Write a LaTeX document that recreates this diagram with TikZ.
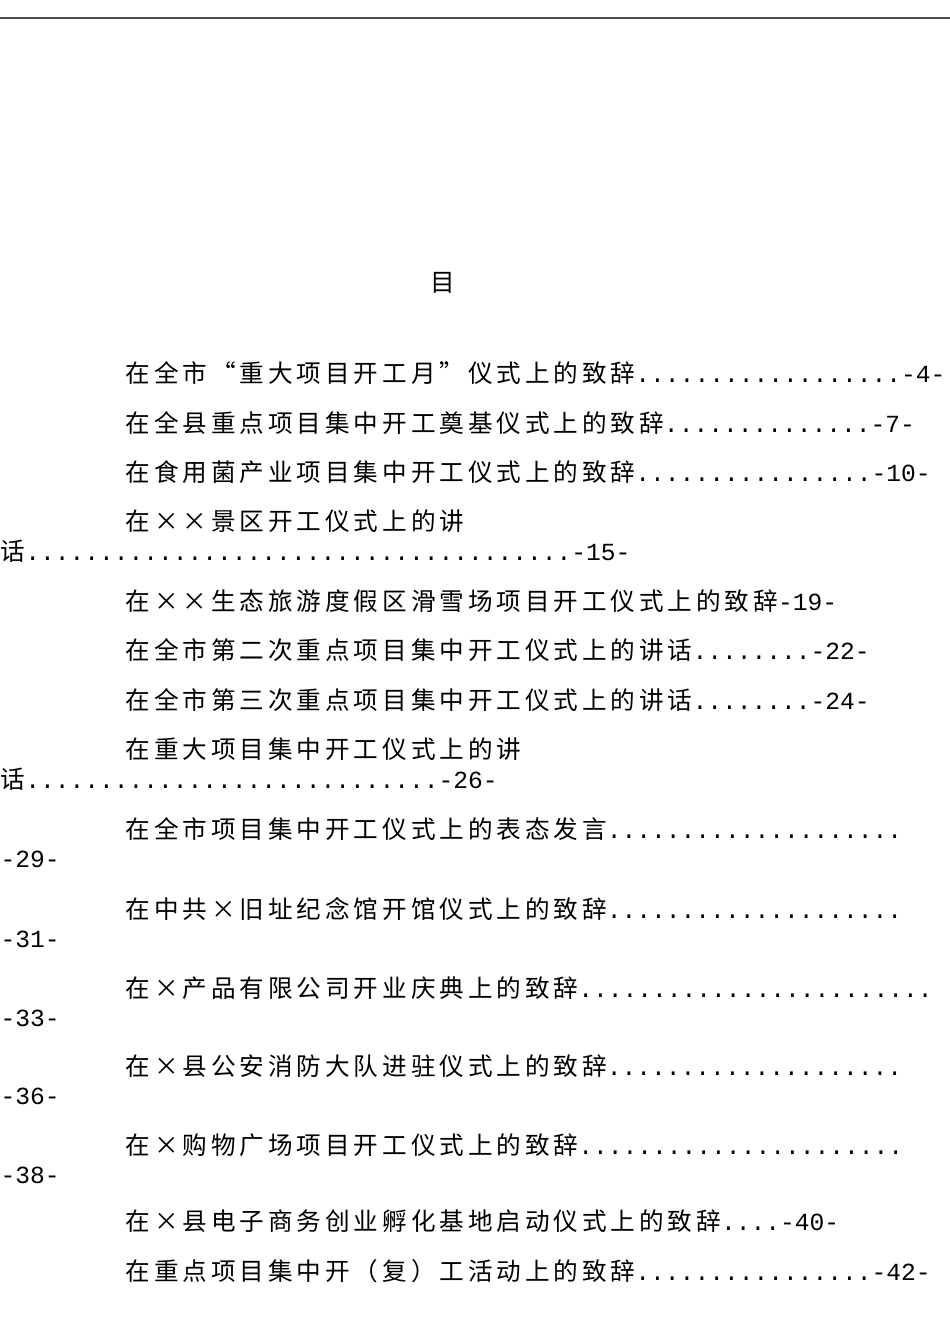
\documentclass[tikz,border=0pt]{standalone}
\usepackage{fontspec}
\setmainfont[LetterSpace=16]{Noto Sans CJK SC}
\newfontfamily\dotfont{Liberation Mono}
\newcommand{\dl}[1]{{\dotfont #1}}
\usetikzlibrary{positioning}

\begin{document}
\begin{tikzpicture}[
    entry/.style = {anchor=west, inner sep=0pt, font=\fontsize{7pt}{8pt}\selectfont},
    rule/.style = {draw=black!70, line width=0.6pt}
    ]
  \useasboundingbox (0,0) rectangle (9.5,-13.44);
  \coordinate (rl) at (0,-0.18) ;
  \coordinate (rr) at (9.5,-0.18) ;
  \draw[rule] (rl) -- (rr);

  \node[entry] (title) at (4.30,-2.83) {目} ;

  \node[entry] (t1) at (1.25,-3.73) {在全市“重大项目开工月”仪式上的致辞\dl{..................-4-}} ;
  \node[entry] (t2) at (1.25,-4.23) {在全县重点项目集中开工奠基仪式上的致辞\dl{..............-7-}} ;
  \node[entry] (t3) at (1.25,-4.72) {在食用菌产业项目集中开工仪式上的致辞\dl{................-10-}} ;
  \node[entry] (t4) at (1.25,-5.21) {在××景区开工仪式上的讲} ;
  \node[entry] (t4b) at (0,-5.51) {话\dl{.....................................-15-}} ;
  \node[entry] (t5) at (1.25,-6.01) {在××生态旅游度假区滑雪场项目开工仪式上的致辞\dl{-19-}} ;
  \node[entry] (t6) at (1.25,-6.50) {在全市第二次重点项目集中开工仪式上的讲话\dl{........-22-}} ;
  \node[entry] (t7) at (1.25,-7.00) {在全市第三次重点项目集中开工仪式上的讲话\dl{........-24-}} ;
  \node[entry] (t8) at (1.25,-7.49) {在重大项目集中开工仪式上的讲} ;
  \node[entry] (t8b) at (0,-7.79) {话\dl{............................-26-}} ;
  \node[entry] (t9) at (1.25,-8.29) {在全市项目集中开工仪式上的表态发言\dl{....................}} ;
  \node[entry] (t9b) at (0,-8.59) {\dl{-29-}} ;
  \node[entry] (t10) at (1.25,-9.09) {在中共×旧址纪念馆开馆仪式上的致辞\dl{....................}} ;
  \node[entry] (t10b) at (0,-9.39) {\dl{-31-}} ;
  \node[entry] (t11) at (1.25,-9.88) {在×产品有限公司开业庆典上的致辞\dl{........................}} ;
  \node[entry] (t11b) at (0,-10.18) {\dl{-33-}} ;
  \node[entry] (t12) at (1.25,-10.66) {在×县公安消防大队进驻仪式上的致辞\dl{....................}} ;
  \node[entry] (t12b) at (0,-10.96) {\dl{-36-}} ;
  \node[entry] (t13) at (1.25,-11.45) {在×购物广场项目开工仪式上的致辞\dl{......................}} ;
  \node[entry] (t13b) at (0,-11.75) {\dl{-38-}} ;
  \node[entry] (t14) at (1.25,-12.21) {在×县电子商务创业孵化基地启动仪式上的致辞\dl{....-40-}} ;
  \node[entry] (t15) at (1.25,-12.71) {在重点项目集中开（复）工活动上的致辞\dl{................-42-}} ;
\end{tikzpicture}
\end{document}
